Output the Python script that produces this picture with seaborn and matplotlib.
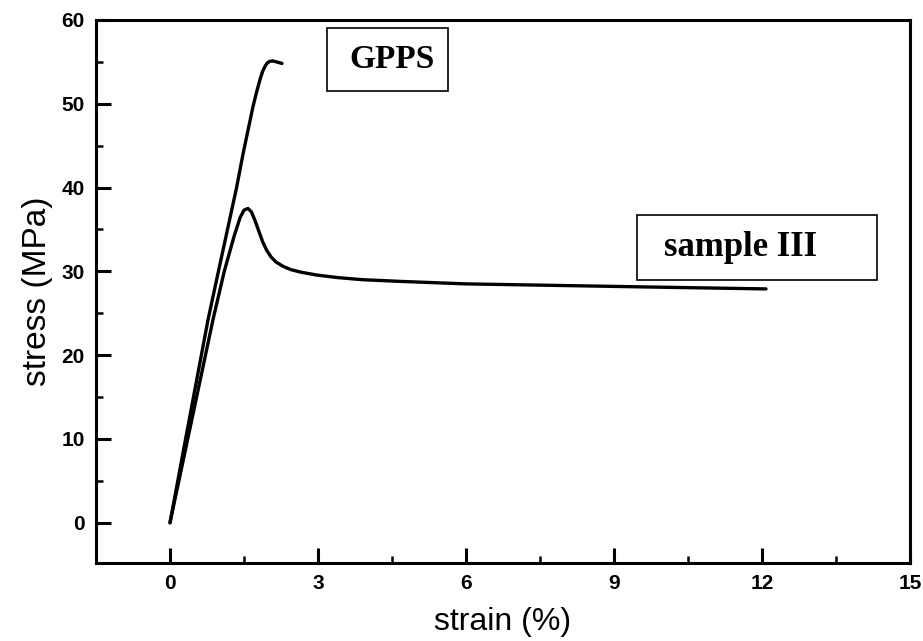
import numpy as np
import pandas as pd
import matplotlib
matplotlib.use("Agg")
import matplotlib.pyplot as plt
from matplotlib.patches import Rectangle
from matplotlib.ticker import MultipleLocator
import seaborn as sns

# data
gpps_strain = [0.0, 0.3, 0.77, 1.0, 1.21, 1.35, 1.48, 1.58, 1.68, 1.76, 1.83, 1.88, 1.93, 1.97, 2.02, 2.08, 2.15, 2.21, 2.27]
gpps_stress = [0.0, 9.5, 24.2, 30.5, 36.2, 40.0, 44.0, 46.8, 49.6, 51.5, 53.0, 53.9, 54.5, 54.85, 55.05, 55.1, 55.0, 54.9, 54.8]

s3_strain = [0.0, 0.5, 0.87, 1.1, 1.3, 1.42, 1.5, 1.58, 1.65, 1.72, 1.8, 1.88, 1.96, 2.05, 2.15, 2.29, 2.45, 2.65, 2.98, 3.4, 3.9, 4.66, 6.0, 8.0, 10.0, 12.08]
s3_stress = [0.0, 13.9, 24.2, 30.0, 34.2, 36.4, 37.3, 37.5, 37.1, 36.1, 34.8, 33.5, 32.5, 31.7, 31.1, 30.6, 30.2, 29.9, 29.55, 29.25, 29.0, 28.8, 28.5, 28.3, 28.1, 27.9]

labels = ["GPPS", "sample III"]
x_ticks = [0, 3, 6, 9, 12, 15]
y_ticks = [0, 10, 20, 30, 40, 50, 60]

df = pd.concat([
    pd.DataFrame({"strain": gpps_strain, "stress": gpps_stress, "sample": labels[0]}),
    pd.DataFrame({"strain": s3_strain, "stress": s3_stress, "sample": labels[1]}),
])

sns.set_style("white")
plt.rcParams["font.family"] = ["Liberation Sans", "DejaVu Sans"]
plt.rcParams["text.color"] = "black"
plt.rcParams["axes.labelcolor"] = "black"
plt.rcParams["xtick.color"] = "black"
plt.rcParams["ytick.color"] = "black"

fig = plt.figure(figsize=(9.23, 6.41), dpi=100)
ax = fig.add_axes([0.104, 0.1217, 0.882, 0.8473])

sns.lineplot(data=df, x="strain", y="stress", units="sample", estimator=None,
             sort=False, color="black", linewidth=2.4, ax=ax, legend=False)

ax.set_xlim(-1.5, 15)
ax.set_ylim(-4.8, 60)
ax.set_xticks(x_ticks)
ax.set_yticks(y_ticks)
ax.xaxis.set_minor_locator(MultipleLocator(1.5))
ax.yaxis.set_minor_locator(MultipleLocator(5))
ax.tick_params(which="major", direction="in", length=11, width=2.2,
               labelsize=15, bottom=True, left=True, top=False, right=False, pad=8,
               colors="black")
ax.tick_params(which="minor", direction="in", length=5, width=1.8,
               bottom=True, left=True, top=False, right=False, colors="black")
for lab in ax.get_xticklabels() + ax.get_yticklabels():
    lab.set_fontweight("bold")
for sp in ax.spines.values():
    sp.set_linewidth(2.2)
    sp.set_color("black")

ax.set_xlabel("strain (%)", fontsize=23, labelpad=10, color="black")
ax.set_ylabel("stress (MPa)", fontsize=24, labelpad=6, color="black")

# label boxes
ax.add_patch(Rectangle((3.18, 51.55), 2.45, 7.52, fill=False, edgecolor="black", linewidth=1.2))
ax.text(4.5, 55.3, labels[0], ha="center", va="center", fontsize=24, color="black",
        fontweight="bold", family=["Liberation Serif", "DejaVu Serif"])
ax.add_patch(Rectangle((9.47, 29.0), 4.86, 7.75, fill=False, edgecolor="black", linewidth=1.2))
ax.text(11.56, 32.9, labels[1], ha="center", va="center", fontsize=25, color="black",
        fontweight="bold", family=["Liberation Serif", "DejaVu Serif"])

fig.savefig("out.png", dpi=100)
